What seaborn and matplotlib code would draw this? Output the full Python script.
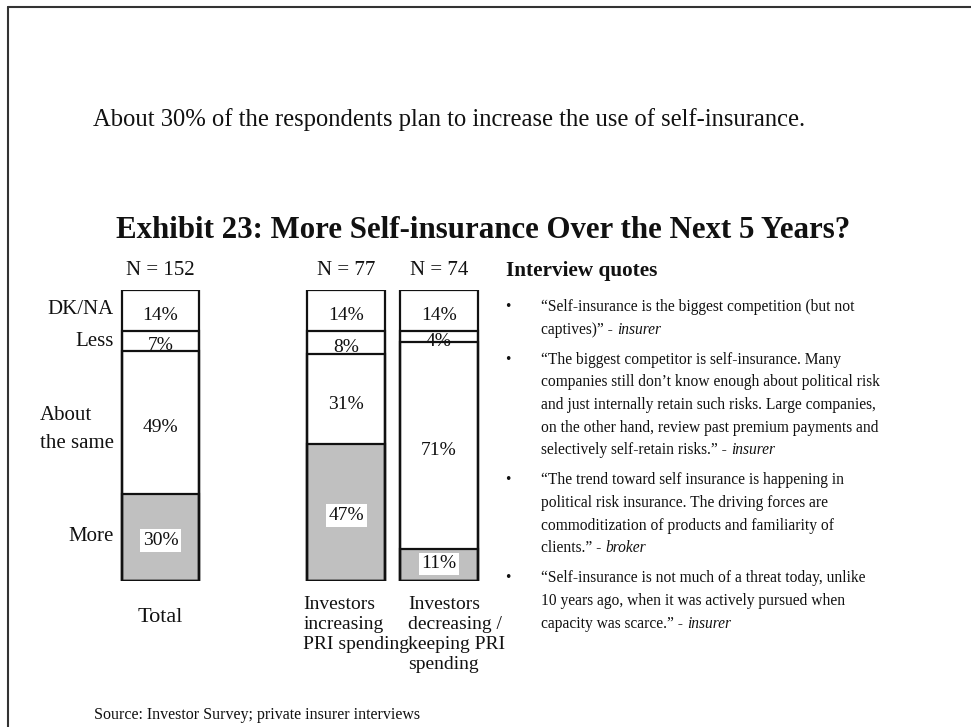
import matplotlib
matplotlib.use("Agg")
import matplotlib.pyplot as plt
from matplotlib.lines import Line2D
import seaborn as sns
import pandas as pd

# ---- data -------------------------------------------------------------
groups = ["Total",
          "Investors\nincreasing\nPRI spending",
          "Investors\ndecreasing /\nkeeping PRI\nspending"]
sample_sizes = ["N = 152", "N = 77", "N = 74"]
responses = ["More", "About\nthe same", "Less", "DK/NA"]
more = [30, 47, 11]
same = [49, 31, 71]
less = [7, 8, 4]
dkna = [14, 14, 14]

headline = "About 30% of the respondents plan to increase the use of self-insurance."
title = "Exhibit 23: More Self-insurance Over the Next 5 Years?"
source = "Source: Investor Survey; private insurer interviews"
quotes_header = "Interview quotes"
quotes = [
    (["\u201cSelf-insurance is the biggest competition (but not",
      "captives)\u201d -"], "insurer"),
    (["\u201cThe biggest competitor is self-insurance. Many",
      "companies still don\u2019t know enough about political risk",
      "and just internally retain such risks. Large companies,",
      "on the other hand, review past premium payments and",
      "selectively self-retain risks.\u201d -"], "insurer"),
    (["\u201cThe trend toward self insurance is happening in",
      "political risk insurance. The driving forces are",
      "commoditization of products and familiarity of",
      "clients.\u201d -"], "broker"),
    (["\u201cSelf-insurance is not much of a threat today, unlike",
      "10 years ago, when it was actively pursued when",
      "capacity was scarce.\u201d -"], "insurer"),
]

# ---- style ------------------------------------------------------------
sns.set_theme(style="white")
plt.rcParams["font.family"] = ["Liberation Serif", "DejaVu Serif"]
plt.rcParams["text.color"] = "#111111"

W, H = 971, 727
fig = plt.figure(figsize=(W / 100, H / 100), dpi=100)
fig.patch.set_facecolor("white")


def fx(x):
    return x / W


def fy(y):
    return 1 - y / H


PX = 72 / 100  # points per pixel

# bar positions: a gap slot between Total and the two investor groups
positions = [0, 2, 3]
bar_w = 0.84
ax = fig.add_axes([fx(114.1), fy(581), 371.3 / W, 291 / H])

df = pd.DataFrame({"pos": positions, "more": more, "same": same,
                   "less": less, "dkna": dkna})
df["top_more"] = df["more"]
df["top_same"] = df["top_more"] + df["same"]
df["top_less"] = df["top_same"] + df["less"]
df["top_dkna"] = df["top_less"] + df["dkna"]

layers = [("top_dkna", "white"), ("top_less", "white"),
          ("top_same", "white"), ("top_more", "#C0C0C0")]
for col, colr in layers:
    sns.barplot(data=df, x="pos", y=col, native_scale=True, orient="x",
                width=bar_w, color=colr, saturation=1, edgecolor="none",
                linewidth=0, errorbar=None, ax=ax, zorder=1)
for col, _ in layers:
    sns.barplot(data=df, x="pos", y=col, native_scale=True, orient="x",
                width=bar_w, color="#111111", fill=False, linewidth=1.6,
                errorbar=None, ax=ax, zorder=3)

ax.set_xlim(-0.5, 3.5)
ax.set_ylim(0, 100)
ax.set_axis_off()

fs_chart = 14
# segment percentage labels (plain ones sit under the divider lines,
# boxed ones on top of them)
seg_cols = [("more", "top_more"), ("same", "top_same"),
            ("less", "top_less"), ("dkna", "top_dkna")]
more_shift = [-3, -3, 1]
for i, row in df.iterrows():
    for col, topc in seg_cols:
        val = row[col]
        center = row[topc] - val / 2
        boxed = col == "more"
        dy = more_shift[i] if boxed else -5
        ax.annotate(f"{int(val)}%", xy=(row["pos"], center),
                    xytext=(0, dy * PX), textcoords="offset points",
                    ha="center", va="center", fontsize=fs_chart,
                    zorder=4 if boxed else 2,
                    bbox=dict(boxstyle="square,pad=0.14", fc="white",
                              ec="none") if boxed else None)

# response labels, left of the Total bar
first = df.iloc[0]
resp_centers = [first["top_more"] - first["more"] / 2,
                first["top_same"] - first["same"] / 2,
                first["top_less"] - first["less"] / 2,
                first["top_dkna"] - first["dkna"] / 2]
resp_offsets = [1, -7, -1, 1]
for lab, yc, off in zip(responses, resp_centers, resp_offsets):
    ax.annotate(lab, xy=(positions[0] - bar_w / 2, yc),
                xytext=(-8 * PX, off * PX), textcoords="offset points",
                ha="right", va="center", ma="left", fontsize=15,
                linespacing=1.6)

# sample sizes above each bar
for p, n in zip(positions, sample_sizes):
    ax.annotate(n, xy=(p, 100), xytext=(0, 20 * PX),
                textcoords="offset points", ha="center", va="center",
                fontsize=15, annotation_clip=False)

# group names below each bar
ax.annotate(groups[0], xy=(positions[0], 0), xytext=(0, -37 * PX),
            textcoords="offset points", ha="center", va="center",
            fontsize=16, annotation_clip=False)
for p, g, dx in zip(positions[1:], groups[1:], [-4, 8]):
    ax.annotate(g, xy=(p - bar_w / 2, 0), xytext=(dx * PX, -15 * PX),
                textcoords="offset points", ha="left", va="top",
                fontsize=fs_chart, linespacing=1.23, annotation_clip=False)

# ---- slide text ---------------------------------------------------------
fig.text(fx(93), fy(120), headline, ha="left", va="center", fontsize=17.7)
fig.text(fx(483), fy(231), title, ha="center", va="center", fontsize=22.2,
         fontweight="bold")
fig.text(fx(94), fy(715), source, ha="left", va="center", fontsize=11.5)

fig.text(fx(506), fy(271), quotes_header, ha="left", va="center",
         fontsize=15.3, fontweight="bold")

renderer = fig.canvas.get_renderer()
fs_q = 11.2
line_h = 22.5
gap = 8
y = 307
for lines, who in quotes:
    fig.text(fx(505), fy(y), "\u2022", ha="left", va="center", fontsize=fs_q)
    for i, ln in enumerate(lines):
        t = fig.text(fx(541), fy(y), ln, ha="left", va="center", fontsize=fs_q)
        if i == len(lines) - 1:
            bb = t.get_window_extent(renderer=renderer)
            fig.text(fx(bb.x1 + 4), fy(y), who, ha="left", va="center",
                     fontsize=fs_q, style="italic")
        y += line_h
    y += gap

# slide frame
fig.add_artist(Line2D([fx(8.3), 1], [fy(6.5), fy(6.5)],
                      transform=fig.transFigure, color="#333333", lw=1.5))
fig.add_artist(Line2D([fx(8.3), fx(8.3)], [fy(6.5), 0],
                      transform=fig.transFigure, color="#333333", lw=1.5))

fig.savefig("out.png", dpi=100, facecolor="white")
